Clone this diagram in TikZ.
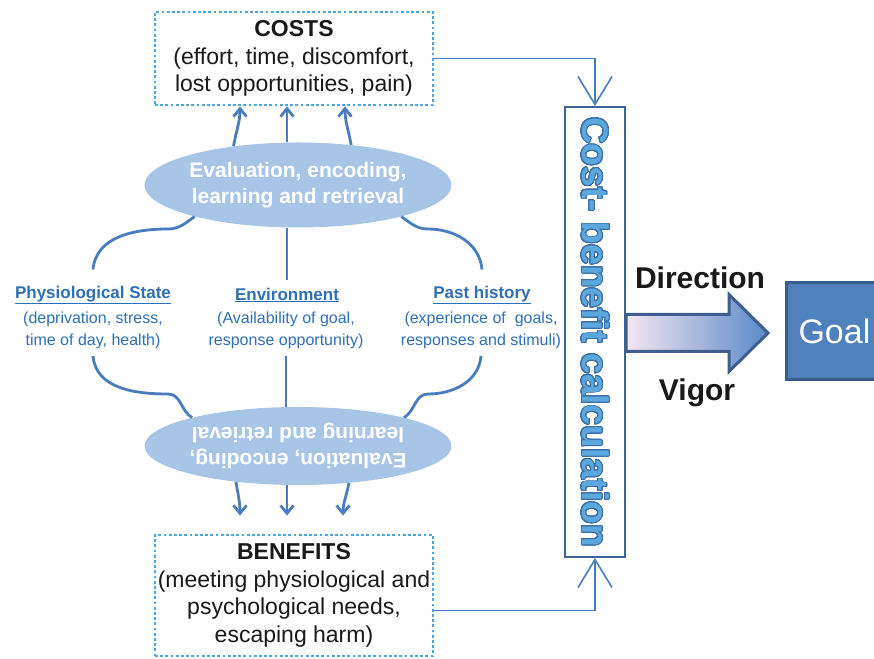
\documentclass[tikz,border=0pt]{standalone}
\usepackage{fontspec}
\setmainfont{Liberation Sans}
\usepackage{graphicx}
\usepackage{contour}
\contourlength{0.9pt}
\contournumber{32}
\usetikzlibrary{shapes.geometric,arrows.meta}

\definecolor{dotblue}{HTML}{4DA6DC}
\definecolor{linkblue}{HTML}{4A7DBF}
\definecolor{labelblue}{HTML}{2E6FB7}
\definecolor{ellfill}{HTML}{A7C5E7}
\definecolor{calcedge}{HTML}{3F6394}
\definecolor{calcfill}{HTML}{5BA8DF}
\definecolor{calcline}{HTML}{3C6EA8}
\definecolor{goalfill}{HTML}{4F81BD}
\definecolor{goaledge}{HTML}{385D8A}
\definecolor{arrowpink}{HTML}{F4E6F1}
\definecolor{arrowblue}{HTML}{5A89C8}
\definecolor{arrowedge}{HTML}{3D5E8E}

\begin{document}
\begin{tikzpicture}[x=1pt,y=1pt,
  dotbox/.style={draw=dotblue, line width=2.8pt, dash pattern=on 2.8pt off 2.4pt,
    minimum width=278pt, inner xsep=2pt, align=center, text=black!90,
    font=\fontsize{23}{27.5}\selectfont},
  evalbox/.style={ellipse, fill=ellfill, minimum width=262pt, inner sep=0pt,
    text=white, align=center, font=\bfseries\fontsize{21}{26}\selectfont},
  labeltitle/.style={text=labelblue, font=\bfseries\fontsize{17}{20}\selectfont},
  labelnote/.style={text=labelblue, align=center, font=\fontsize{16}{22}\selectfont},
  link/.style={draw=linkblue, line width=2.8pt},
  evalarrow/.style={link, -{Straight Barb[length=8pt,width=13pt]}},
  feed/.style={draw=linkblue, line width=1.6pt, -{Straight Barb[length=28pt,width=34pt]}},
  bigword/.style={text=black!90, font=\bfseries\fontsize{30}{36}\selectfont},
]
\useasboundingbox (0,0) rectangle (874,658);
\clip (0,0) rectangle (874,658);

\node[dotbox, minimum height=93pt] (costs) at (294,599.5)
  {{\bfseries COSTS}\\(effort, time, discomfort,\\lost opportunities, pain)};
\node[dotbox, minimum height=121pt] (benefits) at (294,62.5)
  {{\bfseries BENEFITS}\\(meeting physiological and\\psychological needs,\\escaping harm)};
\coordinate (bentop) at ([yshift=18pt]benefits.north);

\node[evalbox, minimum height=85pt] (evtop) at (298,473)
  {Evaluation, encoding,\\learning and retrieval};
% turned upside down: its anchors are turned as well
\node[evalbox, minimum height=78pt, rotate=180] (evbot) at (298,212)
  {Evaluation, encoding,\\learning and retrieval};

\node[labeltitle] (phys) at (93,363) {\underline{Physiological State}};
\node[labelnote] (physnote) at (93,328) {(deprivation, stress,\\time of day, health)};
\node[labeltitle] (env) at (287,363) {\underline{Environment}};
\node[labelnote] (envnote) at (286,328) {(Availability of goal,\\response opportunity)};
\node[labeltitle] (past) at (482,363) {\underline{Past history}};
\node[labelnote] (pastnote) at (481,328) {(experience of~ goals,\\responses and stimuli)};

% inputs into the upper ellipse
\draw[link] ([yshift=13pt]phys.north) to[out=85,in=180] (168,429) to[out=0,in=215] (evtop.197);
\draw[link] ([yshift=4pt]env.north) -- (env.north |- evtop.south);
\draw[link] ([yshift=13pt]past.north) to[out=95,in=0] (428,429) to[out=180,in=-35] (evtop.343);

% inputs into the lower ellipse
\draw[link] ([yshift=-4pt]physnote.south) to[out=-85,in=180] (168,264) to[out=0,in=150] (evbot.-15);
\draw[link] ([yshift=-4pt]envnote.south) -- (envnote.south |- evbot.south);
\draw[link] ([yshift=-4pt]pastnote.south) to[out=-95,in=0] (428,264) to[out=180,in=30] (evbot.195);

\draw[evalarrow] (evtop.149) to[out=80,in=-90] ([xshift=-54pt]costs.south);
\draw[evalarrow] (evtop.north -| env.north) -- (costs.south -| env.north);
\draw[evalarrow] (evtop.37) to[out=100,in=-90] ([xshift=51pt]costs.south);

\draw[evalarrow] (evbot.30) to[out=-80,in=90] ([xshift=-54pt]bentop);
\draw[evalarrow] (evbot.north -| env.south) -- (bentop -| env.south);
\draw[evalarrow] (evbot.144) to[out=-100,in=90] ([xshift=49pt]bentop);

\node[draw=calcedge, line width=2pt, minimum width=60pt, minimum height=450pt, inner sep=0pt,
  text=calcfill, font=\bfseries\fontsize{37}{40}\selectfont] (calc) at (595,326)
  {\rotatebox{-90}{\contour{calcline}{Cost- benefit calculation}}};

\draw[feed] (costs.east) -| (calc.north);
\draw[feed] ([yshift=-15pt]benefits.east) -| (calc.south);

\draw[draw=arrowedge, line width=3pt, left color=arrowpink, right color=arrowblue]
  ([yshift=17.5pt]calc.east) -- ++(103,0) -- ++(0,20) -- ++(39,-38.5)
  -- ++(-39,-38.5) -- ++(0,20) -- ++(-103,0) -- cycle;

\node[bigword] (direction) at (700,380) {Direction};
\node[bigword] (vigor) at (697,265) {Vigor};

\node[fill=goalfill, draw=goaledge, line width=3pt, anchor=west, minimum height=97pt,
  text width=90pt, inner xsep=12pt, align=left, text=white,
  font=\fontsize{34}{40}\selectfont] (goal) at (785,326.5) {Goal};
\end{tikzpicture}
\end{document}
